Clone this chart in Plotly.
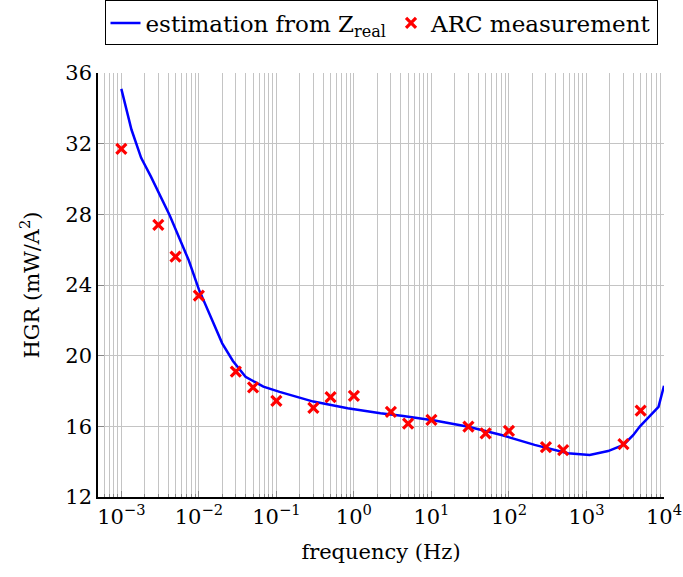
import plotly.graph_objects as go
import math

# estimation curve (frequency in Hz, HGR in mW/A^2)
curve_freq = [1e-3, 1.35e-3, 1.8e-3, 2.4e-3, 4.2e-3, 7.4e-3, 1e-2, 1.4e-2, 2e-2,
              2.75e-2, 4e-2, 6.8e-2, 0.11, 0.3, 0.83, 2.2, 4.1, 11, 30, 80, 214, 575,
              1100, 1900, 3000, 4000, 4900, 8500, 10000]
curve_hgr = [35.1, 32.8, 31.2, 30.15, 27.95, 25.4, 23.75, 22.3, 20.7,
             19.7, 18.8, 18.25, 17.95, 17.4, 17.02, 16.74, 16.6, 16.33, 15.98, 15.51, 14.95, 14.48,
             14.38, 14.6, 14.95, 15.5, 16.0, 17.1, 18.3]

# ARC measurements
arc_freq = [1e-3, 3e-3, 5e-3, 1e-2, 3e-2, 5e-2, 0.1, 0.3, 0.5, 1, 3, 5, 10, 30, 50, 100,
            300, 500, 3000, 5000]
arc_hgr = [31.7, 27.4, 25.6, 23.4, 19.1, 18.2, 17.44, 17.04, 17.66, 17.72, 16.82, 16.16,
           16.36, 15.99, 15.6, 15.74, 14.82, 14.65, 14.99, 16.89]

x_tickvals = [1e-3, 1e-2, 1e-1, 1, 10, 100, 1000, 10000]
x_ticktext = ["10<sup>−3</sup>", "10<sup>−2</sup>", "10<sup>−1</sup>", "10<sup>0</sup>",
              "10<sup>1</sup>", "10<sup>2</sup>", "10<sup>3</sup>", "10<sup>4</sup>"]
y_tickvals = [12, 16, 20, 24, 28, 32, 36]

FONT = "DejaVu Serif, Liberation Serif, serif"
GRID = "#c4c4c4"
FS = 21

fig = go.Figure()
fig.add_trace(go.Scatter(
    x=curve_freq, y=curve_hgr, mode="lines",
    line=dict(color="#0000ff", width=2.5),
    name="estimation from Z<sub>real</sub>"))
fig.add_trace(go.Scatter(
    x=arc_freq, y=arc_hgr, mode="markers",
    marker=dict(symbol="x-thin", size=10, line=dict(width=3.2, color="#ff0000"), color="#ff0000"),
    name="ARC measurement"))

fig.update_layout(
    width=683, height=577,
    margin=dict(l=98, r=19, t=73, b=80, autoexpand=False),
    paper_bgcolor="white", plot_bgcolor="white",
    font=dict(family=FONT, size=FS, color="black"),
    showlegend=True,
    legend=dict(orientation="h", x=0.5, xanchor="center", y=1.065, yanchor="bottom",
                bordercolor="black", borderwidth=1, font=dict(size=23),
                tracegroupgap=0, itemwidth=30),
    xaxis=dict(
        type="log", range=[math.log10(5e-4), 4], automargin=False,
        tickvals=x_tickvals, ticktext=x_ticktext,
        showgrid=True, gridcolor=GRID, gridwidth=1,
        showline=True, linecolor="black", linewidth=1.5, mirror=False,
        ticks="inside", ticklen=6, tickcolor="#888", tickfont=dict(size=FS),
        minor=dict(showgrid=True, gridcolor=GRID, gridwidth=1, dtick="D1",
                   ticks="inside", ticklen=3, tickcolor="#888"),
        title=dict(text="frequency (Hz)", font=dict(size=FS), standoff=16),
        zeroline=False),
    yaxis=dict(
        range=[12, 36], tickvals=y_tickvals, automargin=False,
        showgrid=True, gridcolor=GRID, gridwidth=1,
        showline=True, linecolor="black", linewidth=1.5,
        ticks="inside", ticklen=6, tickcolor="#888", tickfont=dict(size=FS),
        title=dict(text="HGR (mW/A<sup>2</sup>)", font=dict(size=FS), standoff=20),
        zeroline=False),
)

fig.write_html("out.html")
